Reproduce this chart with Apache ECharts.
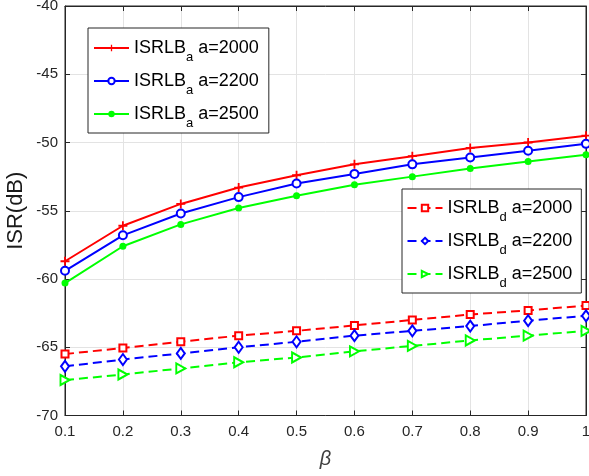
<!DOCTYPE html>
<html><head><meta charset="utf-8">
<script src="https://cdn.jsdelivr.net/npm/echarts@6/dist/echarts.min.js"></script>
<style>html,body{margin:0;padding:0;background:#fff}#c{width:589px;height:476px}</style>
</head><body><div id="c"></div>
<script>
var betas = [0.1,0.2,0.3,0.4,0.5,0.6,0.7,0.8,0.9,1.0];
var aRed   = [-58.7,-56.1,-54.5,-53.3,-52.4,-51.6,-51.0,-50.4,-50.0,-49.5];
var aBlue  = [-59.4,-56.8,-55.2,-54.0,-53.0,-52.3,-51.6,-51.1,-50.6,-50.1];
var aGreen = [-60.3,-57.6,-56.0,-54.8,-53.9,-53.1,-52.5,-51.9,-51.4,-50.9];
var dRed   = [-65.5,-65.05,-64.6,-64.15,-63.8,-63.4,-63.0,-62.6,-62.3,-61.95];
var dBlue  = [-66.4,-65.9,-65.45,-65.0,-64.6,-64.15,-63.8,-63.45,-63.05,-62.7];
var dGreen = [-67.4,-67.0,-66.55,-66.1,-65.75,-65.3,-64.9,-64.5,-64.15,-63.8];
var namesA = ['ISRLBa a=2000','ISRLBa a=2200','ISRLBa a=2500'];
var namesD = ['ISRLBd a=2000','ISRLBd a=2200','ISRLBd a=2500'];

function pairs(ys){ return betas.map(function(b,i){ return [b, ys[i]]; }); }
var FONT = '"Liberation Sans", Arial, sans-serif';
var AX = '#262626';
var PLUS = 'path://M4,0H6V4H10V6H6V10H4V6H0V4H4Z';
var TRI = 'path://M0,0L10,5L0,10Z';

function mk(name, ys, color, symbol, size, dashed, itemStyle){
  return {
    name: name, type: 'line', data: pairs(ys), symbol: symbol, symbolSize: size,
    showAllSymbol: true, color: color,
    lineStyle: {color: color, width: 2, type: dashed ? [9,5] : 'solid'},
    itemStyle: itemStyle,
    emphasis: {disabled: true}, animation: false, z: 3
  };
}
var series = [
  mk(namesA[0], aRed, '#ff0000', PLUS, 9, false, {color: '#ff0000'}),
  mk(namesA[1], aBlue, '#0000ff', 'emptyCircle', 8, false, {color: '#0000ff', borderWidth: 2}),
  mk(namesA[2], aGreen, '#00ff00', 'circle', 7, false, {color: '#00ff00'}),
  mk(namesD[0], dRed, '#ff0000', 'emptyRect', 7, true, {color: '#ff0000', borderWidth: 2}),
  mk(namesD[1], dBlue, '#0000ff', 'emptyDiamond', [8,11], true, {color: '#0000ff', borderWidth: 2}),
  mk(namesD[2], dGreen, '#00ff00', TRI, [9,10], true, {color: '#ffffff', borderColor: '#00ff00', borderWidth: 2})
];

function fmt(name){
  var p = name.split(' ');
  var base = p[0];
  return base.slice(0,5) + '{s|' + base.slice(5) + '} ' + p[1];
}
var legendText = {
  fontFamily: FONT, fontSize: 18, color: '#000', lineHeight: 32,
  rich: { s: {fontFamily: FONT, fontSize: 13, lineHeight: 13, verticalAlign: 'bottom', color: '#000'} }
};
function legend(data, left, top, pad){
  return {
    data: data, orient: 'vertical', left: left, top: top, padding: pad,
    itemWidth: 35, itemHeight: 8, itemGap: 1,
    backgroundColor: '#fff', borderColor: AX, borderWidth: 1,
    formatter: fmt, textStyle: legendText, selectedMode: false
  };
}

var chart = echarts.init(document.getElementById('c'), null, {renderer: 'canvas'});
chart.setOption({
  backgroundColor: '#fff',
  animation: false,
  grid: {left: 65, right: 3, top: 6, bottom: 60.5, show: true, borderColor: AX, borderWidth: 1,
         backgroundColor: 'transparent', outerBoundsMode: 'none', containLabel: false},
  legend: [
    legend(namesA, 88, 28, [4,10,3,5]),
    legend(namesD, 402, 189, [3,9,3,4.5])
  ],
  xAxis: [{
    type: 'value', min: 0.1, max: 1, interval: 0.1,
    name: 'β', nameLocation: 'middle', nameGap: 34, nameMoveOverlap: false,
    nameTextStyle: {fontFamily: FONT, fontSize: 20, fontStyle: 'italic', color: '#404040'},
    axisLine: {lineStyle: {color: AX, width: 1}},
    axisTick: {inside: true, length: 5, lineStyle: {color: AX}},
    axisLabel: {fontFamily: FONT, fontSize: 15, color: AX, margin: 9,
      formatter: function(v){ return String(+v.toFixed(1)); }},
    splitLine: {show: true, lineStyle: {color: '#e3e3e3', width: 1}}
  },{
    type: 'value', position: 'top', min: 0.1, max: 1, interval: 0.1,
    axisLine: {show: true, lineStyle: {color: AX}},
    axisTick: {inside: true, length: 5, lineStyle: {color: AX}},
    axisLabel: {show: false}, splitLine: {show: false}
  }],
  yAxis: [{
    type: 'value', min: -70, max: -40, interval: 5,
    name: 'ISR(dB)', nameLocation: 'middle', nameGap: 38, nameMoveOverlap: false,
    nameTextStyle: {fontFamily: FONT, fontSize: 22, color: '#1a1a1a'},
    axisLine: {show: true, lineStyle: {color: AX, width: 1}},
    axisTick: {show: true, inside: true, length: 5, lineStyle: {color: AX}},
    axisLabel: {fontFamily: FONT, fontSize: 15, color: AX, margin: 7},
    splitLine: {show: true, lineStyle: {color: '#e3e3e3', width: 1}}
  },{
    type: 'value', position: 'right', min: -70, max: -40, interval: 5,
    axisLine: {show: true, lineStyle: {color: AX}},
    axisTick: {show: true, inside: true, length: 5, lineStyle: {color: AX}},
    axisLabel: {show: false}, splitLine: {show: false}
  }],
  series: series
});
</script></body></html>
